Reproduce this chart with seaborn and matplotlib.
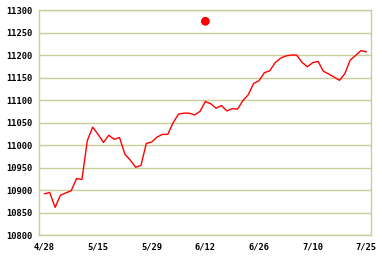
import matplotlib
matplotlib.use("Agg")
import matplotlib.pyplot as plt
import seaborn as sns
import pandas as pd
import numpy as np

values = [10892, 10895, 10862, 10889, 10894, 10899, 10926, 10924, 11010, 11040,
          11024, 11006, 11022, 11013, 11017, 10980, 10967, 10951, 10955, 11004,
          11007, 11018, 11024, 11024, 11050, 11069, 11071, 11071, 11067, 11075,
          11097, 11092, 11082, 11088, 11076, 11081, 11080, 11099, 11112, 11137,
          11143, 11161, 11165, 11183, 11193, 11198, 11200, 11200, 11184, 11174,
          11183, 11186, 11164, 11158, 11151, 11144, 11159, 11189, 11199, 11210,
          11207]
tick_labels = ["4/28", "5/15", "5/29", "6/12", "6/26", "7/10", "7/25"]
tick_pos = [0, 10, 20, 30, 40, 50, 60]
marker_idx = [30]
marker_val = [11275]
y_ticks = list(range(10800, 11301, 50))

df = pd.DataFrame({"i": np.arange(len(values)), "v": values})
mdf = pd.DataFrame({"i": marker_idx, "v": marker_val})

sns.set_style("white")
fig = plt.figure(figsize=(3.82, 2.58), dpi=100)
ax = fig.add_axes([39/382, 22.7/258, 332/382, 225.3/258])

grid_c = "#CCCC99"
sns.lineplot(data=df, x="i", y="v", ax=ax, color="#FF0000", linewidth=1.0)
sns.scatterplot(data=mdf, x="i", y="v", ax=ax, color="#FF0000", s=40,
                edgecolor="none", zorder=5)

ax.set_xlim(-1, 60.87)
ax.set_ylim(10800, 11300)
ax.set_yticks(y_ticks)
ax.set_yticklabels([str(t) for t in y_ticks])
ax.set_xticks(tick_pos)
ax.set_xticklabels(tick_labels)
ax.set_xlabel("")
ax.set_ylabel("")

for yv in y_ticks:
    ax.axhline(yv, color=grid_c, linewidth=1.0, zorder=0)
for s in ax.spines.values():
    s.set_color(grid_c)
    s.set_linewidth(1.0)
    s.set_visible(True)

ax.tick_params(axis="x", direction="in", length=4, width=1, color=grid_c,
               pad=5, labelsize=6.3)
ax.tick_params(axis="y", length=0, pad=5, labelsize=6.3)
for lab in ax.get_xticklabels() + ax.get_yticklabels():
    lab.set_fontfamily("DejaVu Sans Mono")
    lab.set_fontweight("bold")
    lab.set_color("black")

fig.savefig("out.png", dpi=100)
